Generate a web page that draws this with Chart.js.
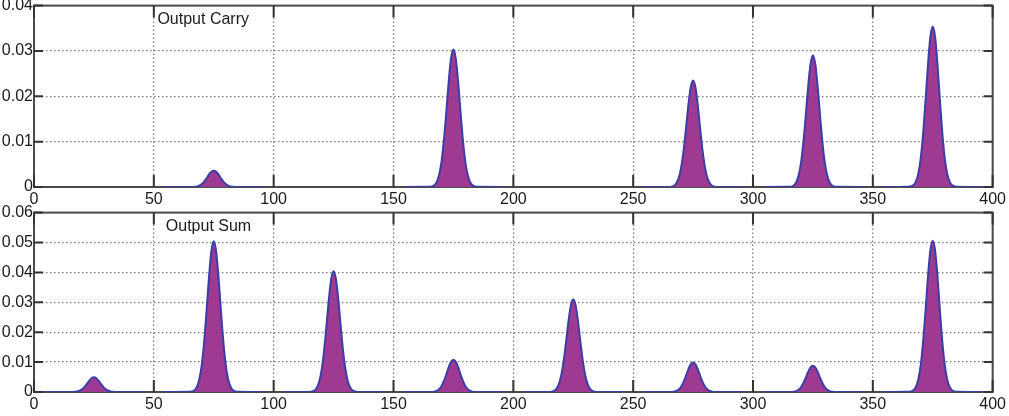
<!DOCTYPE html>
<html>
<head>
<meta charset="utf-8">
<script src="https://cdn.jsdelivr.net/npm/chart.js@4"></script>
<style>
body { margin: 0; background: #fff; width: 1009px; height: 416px; overflow: hidden; position: relative; }
canvas { position: absolute; left: 0; }
#carry-chart { top: -5px; }
#sum-chart { top: 202px; }
</style>
</head>
<body>
<canvas id="carry-chart" width="1009" height="216"></canvas>
<canvas id="sum-chart" width="1009" height="214"></canvas>
<script>
// x positions of the samples around each peak (relative to the peak centre)
const offsets = [-21, -10, -8, -7, -6, -5, -4, -3, -2, -1, 0, 1, 2, 3, 4, 5, 6, 7, 8, 10, 21];

// Output Carry
const carryCenters = [75, 175, 275, 325, 375];
const carry75  = [0, 0, 0.00004, 0.00013, 0.00031, 0.00065, 0.0012, 0.00194, 0.00274, 0.00336, 0.0036, 0.00336, 0.00274, 0.00194, 0.0012, 0.00065, 0.00031, 0.00013, 0.00004, 0, 0];
const carry175 = [0, 0.00003, 0.00036, 0.00106, 0.00258, 0.00545, 0.01012, 0.01633, 0.02303, 0.0283, 0.0303, 0.0283, 0.02303, 0.01633, 0.01012, 0.00545, 0.00258, 0.00106, 0.00036, 0.00003, 0];
const carry275 = [0, 0.00002, 0.00028, 0.00082, 0.002, 0.00423, 0.00785, 0.01267, 0.01786, 0.02195, 0.0235, 0.02195, 0.01786, 0.01267, 0.00785, 0.00423, 0.002, 0.00082, 0.00028, 0.00002, 0];
const carry325 = [0, 0.00003, 0.00035, 0.00102, 0.00247, 0.00522, 0.00969, 0.01563, 0.02204, 0.02709, 0.029, 0.02709, 0.02204, 0.01563, 0.00969, 0.00522, 0.00247, 0.00102, 0.00035, 0.00003, 0];
const carry375 = [0, 0.00004, 0.00042, 0.00124, 0.00301, 0.00637, 0.01182, 0.01908, 0.0269, 0.03306, 0.0354, 0.03306, 0.0269, 0.01908, 0.01182, 0.00637, 0.00301, 0.00124, 0.00042, 0.00004, 0];

// Output Sum
const sumCenters = [25, 75, 125, 175, 225, 275, 325, 375];
const sum25  = [0, 0, 0.00006, 0.00017, 0.00042, 0.00088, 0.00164, 0.00264, 0.00372, 0.00458, 0.0049, 0.00458, 0.00372, 0.00264, 0.00164, 0.00088, 0.00042, 0.00017, 0.00006, 0, 0];
const sum75  = [0, 0.00005, 0.0006, 0.00176, 0.00428, 0.00907, 0.01683, 0.02717, 0.0383, 0.04707, 0.0504, 0.04707, 0.0383, 0.02717, 0.01683, 0.00907, 0.00428, 0.00176, 0.0006, 0.00005, 0];
const sum125 = [0, 0.00004, 0.00048, 0.00141, 0.00343, 0.00727, 0.01349, 0.02178, 0.0307, 0.03773, 0.0404, 0.03773, 0.0307, 0.02178, 0.01349, 0.00727, 0.00343, 0.00141, 0.00048, 0.00004, 0];
const sum175 = [0, 0.00001, 0.00013, 0.00038, 0.00092, 0.00194, 0.00361, 0.00582, 0.00821, 0.01009, 0.0108, 0.01009, 0.00821, 0.00582, 0.00361, 0.00194, 0.00092, 0.00038, 0.00013, 0.00001, 0];
const sum225 = [0, 0.00003, 0.00037, 0.00109, 0.00264, 0.00558, 0.01035, 0.01671, 0.02356, 0.02895, 0.031, 0.02895, 0.02356, 0.01671, 0.01035, 0.00558, 0.00264, 0.00109, 0.00037, 0.00003, 0];
const sum275 = [0, 0.00001, 0.00012, 0.00035, 0.00084, 0.00178, 0.00331, 0.00534, 0.00752, 0.00925, 0.0099, 0.00925, 0.00752, 0.00534, 0.00331, 0.00178, 0.00084, 0.00035, 0.00012, 0.00001, 0];
const sum325 = [0, 0.00001, 0.00011, 0.00031, 0.00075, 0.00158, 0.00294, 0.00474, 0.00669, 0.00822, 0.0088, 0.00822, 0.00669, 0.00474, 0.00294, 0.00158, 0.00075, 0.00031, 0.00011, 0.00001, 0];
const sum375 = [0, 0.00005, 0.00061, 0.00177, 0.0043, 0.00911, 0.0169, 0.02727, 0.03846, 0.04726, 0.0506, 0.04726, 0.03846, 0.02727, 0.0169, 0.00911, 0.0043, 0.00177, 0.00061, 0.00005, 0];

const carryPeaks = [carry75, carry175, carry275, carry325, carry375];
const sumPeaks = [sum25, sum75, sum125, sum175, sum225, sum275, sum325, sum375];

const FONT = 'Liberation Sans, Arial, sans-serif';

// one segment per peak, null point in between so the line breaks
function buildPoints(centers, peaks) {
    const pts = [];
    centers.forEach((c, i) => {
        offsets.forEach((o, j) => pts.push({x: c + o, y: peaks[i][j]}));
        pts.push({x: c + 23, y: null});
    });
    return pts;
}

// matlab-like box with inward ticks + the text label
const framePlugin = {
    id: 'frame',
    beforeDatasetsDraw(chart, args, opts) {
        const ctx = chart.ctx;
        const a = chart.chartArea;
        const xs = chart.scales.x, ys = chart.scales.y;
        ctx.save();
        ctx.strokeStyle = '#4a4a4a';
        ctx.lineWidth = 2;
        ctx.strokeRect(a.left, a.top, a.right - a.left, a.bottom - a.top);
        ctx.strokeStyle = '#333';
        ctx.beginPath();
        ys.ticks.forEach(t => {
            const y = ys.getPixelForValue(t.value);
            ctx.moveTo(a.left, y); ctx.lineTo(a.left + 9, y);
            ctx.moveTo(a.right, y); ctx.lineTo(a.right - 9, y);
        });
        xs.ticks.forEach(t => {
            const x = xs.getPixelForValue(t.value);
            ctx.moveTo(x, a.top); ctx.lineTo(x, a.top + 12);
            ctx.moveTo(x, a.bottom); ctx.lineTo(x, a.bottom - 12);
        });
        ctx.stroke();
        ctx.fillStyle = '#1a1a1a';
        ctx.font = '16px ' + FONT;
        ctx.textBaseline = 'middle';
        ctx.fillText(opts.text, xs.getPixelForValue(opts.at), a.top + 14);
        ctx.restore();
    }
};

function makeConfig(points, yMax, text, at, padRight) {
    return {
        type: 'line',
        data: {
            datasets: [{
                data: points,
                borderColor: 'rgb(58, 62, 165)',
                backgroundColor: 'rgb(158, 58, 146)',
                borderWidth: 2,
                pointRadius: 0,
                fill: 'origin',
                spanGaps: false,
                cubicInterpolationMode: 'monotone'
            }]
        },
        options: {
            responsive: false,
            animation: false,
            devicePixelRatio: 1,
            layout: {padding: {left: 0, right: padRight, top: 0, bottom: 0}},
            plugins: {
                legend: {display: false},
                tooltip: {enabled: false},
                frame: {text: text, at: at}
            },
            scales: {
                x: {
                    type: 'linear',
                    min: 0, max: 400,
                    afterFit: (s) => { s.height = 24; },
                    ticks: {stepSize: 50, padding: 3, color: '#1a1a1a', font: {family: FONT, size: 16}, maxRotation: 0},
                    grid: {color: 'rgb(125,125,125)', lineWidth: 1.3, drawTicks: false},
                    border: {display: false, dash: [1.5, 2.5]}
                },
                y: {
                    min: 0, max: yMax,
                    afterFit: (s) => { s.width = 34; },
                    ticks: {
                        stepSize: 0.01, padding: 1, color: '#1a1a1a', font: {family: FONT, size: 16},
                        callback: (v) => v === 0 ? '0' : v.toFixed(2)
                    },
                    grid: {color: 'rgb(125,125,125)', lineWidth: 1.3, drawTicks: false},
                    border: {display: false, dash: [1.5, 2.5]}
                }
            }
        },
        plugins: [framePlugin]
    };
}

const carryChart = new Chart(document.getElementById('carry-chart'),
    makeConfig(buildPoints(carryCenters, carryPeaks), 0.04, 'Output Carry', 51.5, 16));

const sumChart = new Chart(document.getElementById('sum-chart'),
    makeConfig(buildPoints(sumCenters, sumPeaks), 0.06, 'Output Sum', 55, 14));
</script>
</body>
</html>
